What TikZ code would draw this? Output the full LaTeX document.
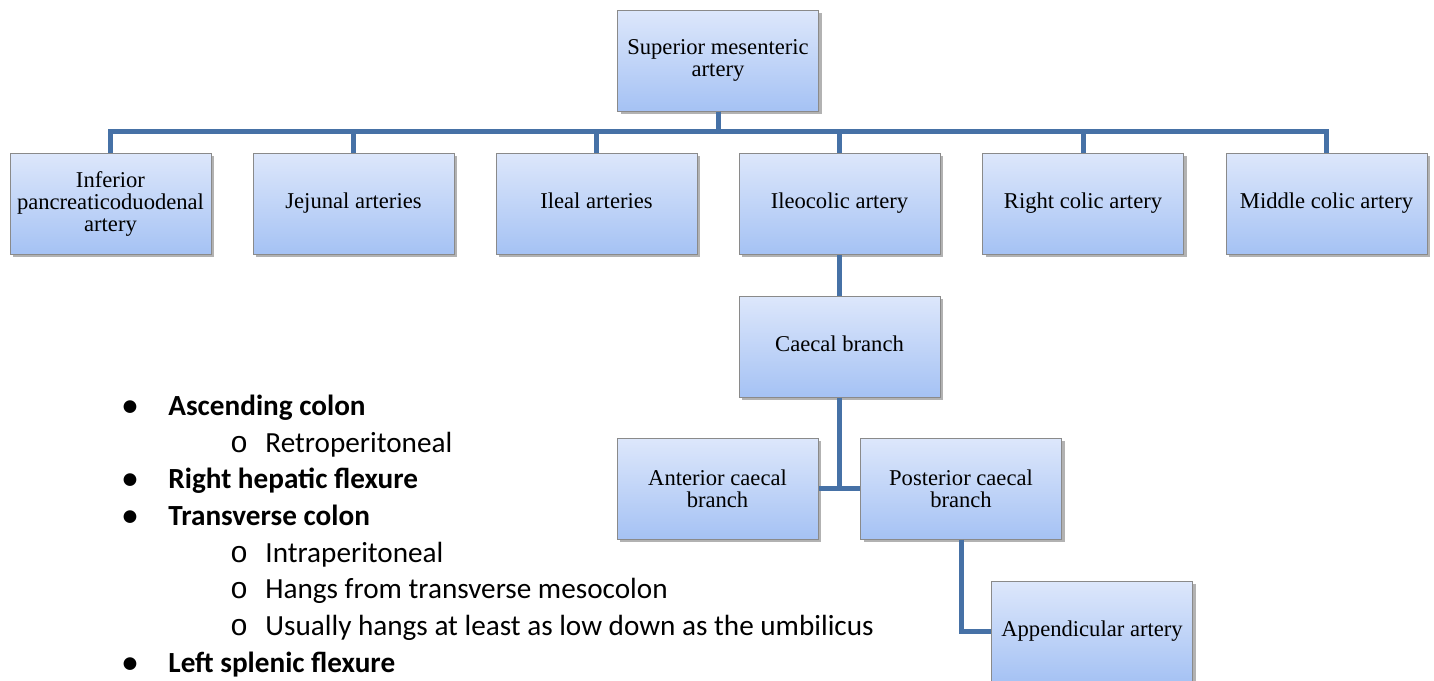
\documentclass[tikz,border=0pt]{standalone}
\usepackage{fontspec}
\setmainfont{Liberation Serif}
\newfontfamily\bulletfont{Carlito}
\newfontfamily\monofont{Liberation Mono}
\usetikzlibrary{shadows}
\definecolor{conncol}{HTML}{4671A6}
\definecolor{boxtop}{HTML}{DDE7FB}
\definecolor{boxbot}{HTML}{A5C2F4}
\definecolor{boxline}{HTML}{8A8A8A}
\tikzset{
  box/.style={rectangle, draw=boxline, line width=0.5pt, top color=boxtop, bottom color=boxbot,
    minimum width=100.5pt, minimum height=50.5pt, inner sep=1pt, align=center,
    font=\fontsize{11.3pt}{11pt}\selectfont,
    drop shadow={shadow xshift=1.5pt, shadow yshift=-1.5pt, opacity=0.3, fill=black}},
  conn/.style={draw=conncol, line width=2.5pt},
  bl/.style={anchor=base west, inner sep=0pt, font=\bulletfont\fontsize{14.6pt}{16pt}\selectfont},
  blb/.style={bl, font=\bulletfont\bfseries\fontsize{14.6pt}{16pt}\selectfont},
  dot/.style={anchor=base, inner sep=0pt, font=\bulletfont\bfseries\fontsize{15pt}{16pt}\selectfont},
  odot/.style={anchor=base, inner sep=0pt, font=\monofont\fontsize{15pt}{16pt}\selectfont}
}
\begin{document}
\begin{tikzpicture}[x=0.5pt,y=-0.5pt]
\useasboundingbox (0,0) rectangle (1434,680);
\fill[white] (0,0) rectangle (1434,680);
% boxes
\node[box] (sma) at (718,60.5) {Superior mesenteric\\artery};
\node[box] (ipd) at (110.5,203.5) {Inferior\\pancreaticoduodenal\\artery};
\node[box] (jej) at (353.5,203.5) {Jejunal arteries};
\node[box] (ile) at (596.5,203.5) {Ileal arteries\vphantom{y}};
\node[box] (ilc) at (839.5,203.5) {Ileocolic artery};
\node[box] (rca) at (1083,203.5) {Right colic artery};
\node[box] (mca) at (1326.5,203.5) {Middle colic artery};
\node[box] (cae) at (839.5,346.5) {Caecal branch\vphantom{y}};
\node[box] (ant) at (717.5,488.5) {Anterior caecal\\branch};
\node[box] (pos) at (961,488.5) {Posterior caecal\\branch};
\node[box] (app) at (1092,631.5) {Appendicular artery};
% connectors
\foreach \c in {ipd,jej,ile,ilc,rca,mca}{
  \draw[conn] (sma.south) -- ++(0,20) -| (\c.north);
}
\draw[conn] (ilc.south) -- (cae.north);
\draw[conn] (cae.south) |- (ant.east);
\draw[conn] (cae.south) |- (pos.west);
\draw[conn] (pos.south) |- (app.west);
% bullet list
\node[dot] (d1) at (130,415) {•};
\node[blb] (t1) at (168,415) {Ascending colon};
\node[odot] (o1) at (239,452) {o};
\node[bl] (s1) at (265,452) {Retroperitoneal};
\node[dot] (d2) at (130,488) {•};
\node[blb] (t2) at (168,488) {Right hepatic flexure};
\node[dot] (d3) at (130,525) {•};
\node[blb] (t3) at (168,525) {Transverse colon};
\node[odot] (o2) at (239,562) {o};
\node[bl] (s2) at (265,562) {Intraperitoneal};
\node[odot] (o3) at (239,598) {o};
\node[bl] (s3) at (265,598) {Hangs from transverse mesocolon};
\node[odot] (o4) at (239,635) {o};
\node[bl] (s4) at (265,635) {Usually hangs at least as low down as the umbilicus};
\node[dot] (d4) at (130,672) {•};
\node[blb] (t4) at (168,672) {Left splenic flexure};
\end{tikzpicture}
\end{document}
